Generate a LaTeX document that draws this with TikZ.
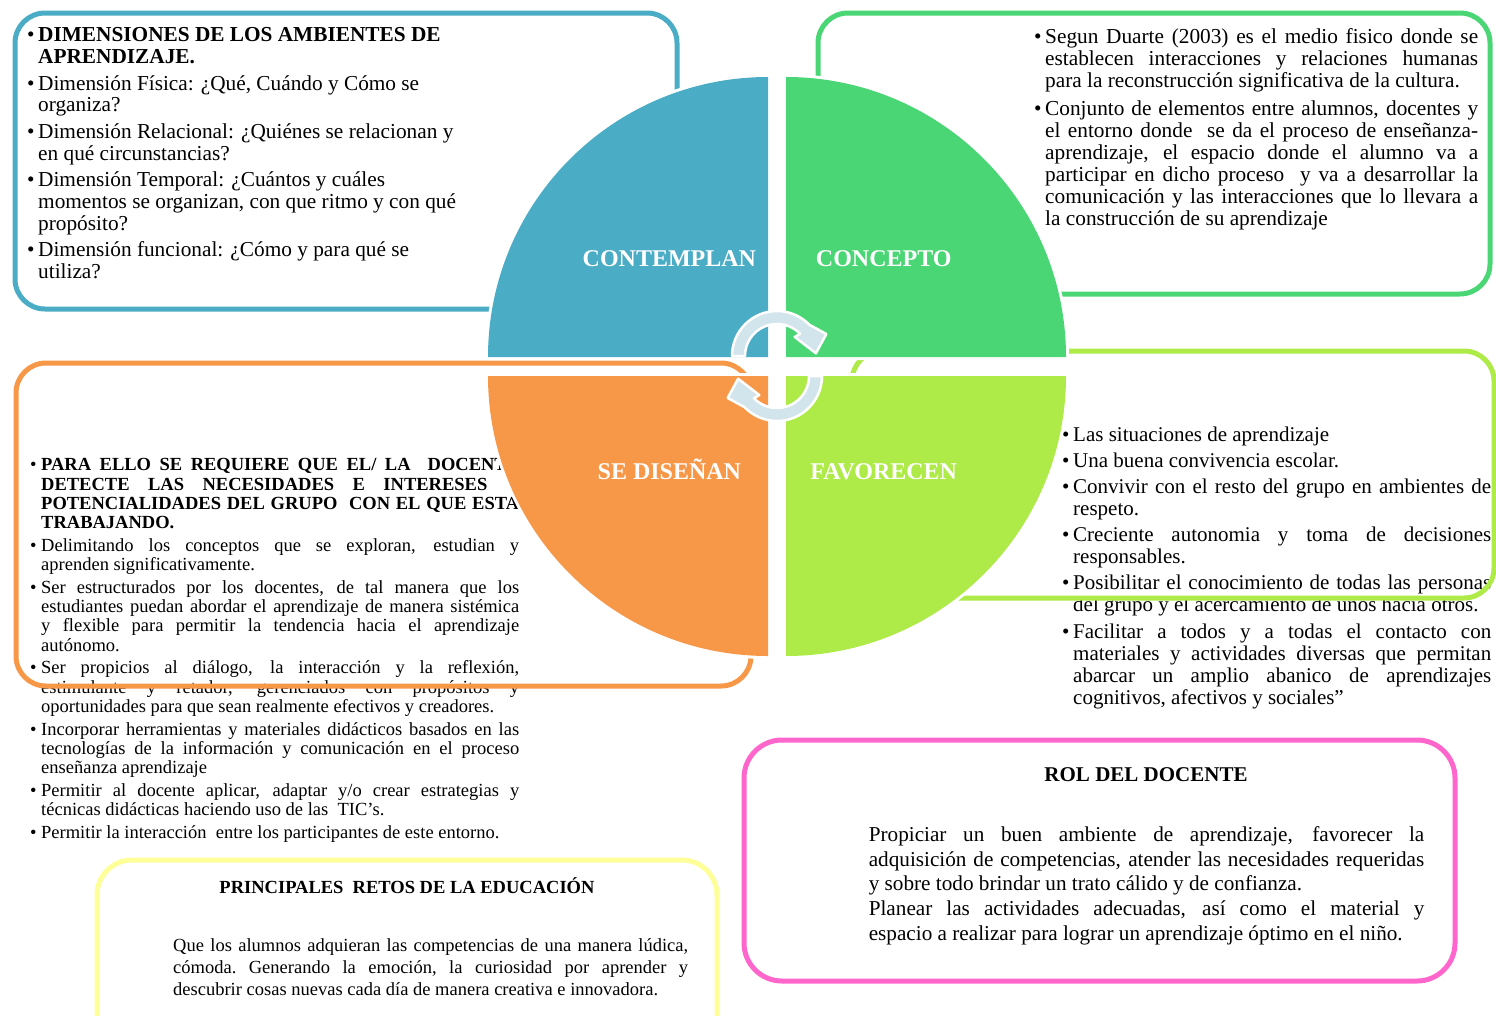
\documentclass[tikz,border=0pt]{standalone}
\usepackage{fontspec}
\setmainfont{Liberation Serif}
\usepackage{tikz}
\definecolor{ambblue}{RGB}{75,172,198}
\definecolor{ambgreen}{RGB}{74,214,117}
\definecolor{amblime}{RGB}{174,234,72}
\definecolor{amborange}{RGB}{247,151,72}
\definecolor{ambpink}{RGB}{255,102,204}
\definecolor{ambyellow}{RGB}{255,255,153}
\definecolor{ambcycle}{RGB}{210,228,236}
\newcommand{\itm}{\hangindent=11pt\hangafter=1\noindent\hbox to 11pt{\textbullet\hfil}}
\newcommand{\txtsize}[3]{\fontsize{#1}{#2}\selectfont\parskip=#3pt\tolerance=10000\hbadness=10000\relax}

\begin{document}
\begin{tikzpicture}[x=1pt, y=-1pt,
    boxframe/.style={draw=#1, line width=5pt, rounded corners=30pt},
    quadrant/.style={fill=#1, preaction={draw=white, line width=6pt, line join=round}},
    qlabel/.style={anchor=base, inner sep=0pt, text=white, font=\bfseries\fontsize{24}{28}\selectfont},
    textblock/.style={anchor=base west, inner sep=0pt, text width=#1, align=justify},
    headtitle/.style={anchor=base, inner sep=0pt, font=\bfseries\fontsize{#1}{#1}\selectfont},
    turnarrow/.style={fill=ambcycle, draw=white, line width=2.5pt, line join=round}]
    \useasboundingbox (0,0) rectangle (1496,1015);
    \clip (0,0) rectangle (1496,1015);

    \node[textblock=460pt, align=flush left] (dimtext) at (27,41.7) {\txtsize{21.3}{21.6}{5.2}%
        \itm\textbf{DIMENSIONES DE LOS AMBIENTES DE\newline APRENDIZAJE.}\par
        \itm Dimensión Física: ¿Qué, Cuándo y Cómo se\newline organiza?\par
        \itm Dimensión Relacional: ¿Quiénes se relacionan y\newline en qué circunstancias?\par
        \itm Dimensión Temporal: ¿Cuántos y cuáles\newline momentos se organizan, con que ritmo y con qué\newline propósito?\par
        \itm Dimensión funcional: ¿Cómo y para qué se\newline utiliza?\par};

    \node[textblock=444pt] (context) at (1034,43.3) {\txtsize{21.3}{22}{6}%
        \itm Segun Duarte (2003) es el medio fisico donde se\linebreak establecen interacciones y relaciones humanas\linebreak para la reconstrucción significativa de la cultura.\par
        \itm Conjunto de elementos entre alumnos, docentes y\linebreak el entorno donde\ \ se da el proceso de enseñanza-\linebreak aprendizaje, el espacio donde el alumno va a\linebreak participar en dicho proceso\ \ y va a desarrollar la\linebreak comunicación y las interacciones que lo llevara a\linebreak la construcción de su aprendizaje\par};

    \node[textblock=429pt] (favtext) at (1062,441) {\txtsize{21}{22}{4.2}%
        \itm Las situaciones de aprendizaje\par
        \itm Una buena convivencia escolar.\par
        \itm Convivir con el resto del grupo en ambientes de\linebreak respeto.\par
        \itm Creciente autonomia y toma de decisiones\linebreak responsables.\par
        \itm Posibilitar el conocimiento de todas las personas\linebreak del grupo y el acercamiento de unos hacia otros.\par
        \itm Facilitar a todos y a todas el contacto con\linebreak materiales y actividades diversas que permitan\linebreak abarcar un amplio abanico de aprendizajes\linebreak cognitivos, afectivos y sociales”\par};

    \node[textblock=489pt] (distext) at (30,470.7) {\txtsize{18.5}{19.3}{3.4}%
        \itm\textbf{PARA ELLO SE REQUIERE QUE EL/ LA\ \ DOCENTE\linebreak DETECTE LAS NECESIDADES E INTERESES Y\linebreak POTENCIALIDADES DEL GRUPO\ \ CON EL QUE ESTA\linebreak TRABAJANDO.}\par
        \itm Delimitando los conceptos que se exploran, estudian y\linebreak aprenden significativamente.\par
        \itm Ser estructurados por los docentes, de tal manera que los\linebreak estudiantes puedan abordar el aprendizaje de manera sistémica\linebreak y flexible para permitir la tendencia hacia el aprendizaje\linebreak autónomo.\par
        \itm Ser propicios al diálogo, la interacción y la reflexión,\linebreak estimulante y retador, gerenciados con propósitos y\linebreak oportunidades para que sean realmente efectivos y creadores.\par
        \itm Incorporar herramientas y materiales didácticos basados en las\linebreak tecnologías de la información y comunicación en el proceso\linebreak enseñanza aprendizaje\par
        \itm Permitir al docente aplicar, adaptar y/o crear estrategias y\linebreak técnicas didácticas haciendo uso de las\ \ TIC’s.\par
        \itm Permitir la interacción\ \ entre los participantes de este entorno.\par};

    \node[headtitle=21] (roltitle) at (1146,781.7) {ROL DEL DOCENTE};
    \node[textblock=555.5pt] (roltext) at (868.6,841.7) {\txtsize{21.2}{24.6}{0}%
        Propiciar un buen ambiente de aprendizaje, favorecer la\linebreak adquisición de competencias, atender las necesidades requeridas\linebreak y sobre todo brindar un trato cálido y de confianza.\par
        Planear las actividades adecuadas, así como el material y\linebreak espacio a realizar para lograr un aprendizaje óptimo en el niño.\par};

    \node[headtitle=18.5] (retostitle) at (407,893.3) {PRINCIPALES\ \ RETOS DE LA EDUCACIÓN};
    \node[textblock=515pt] (retostext) at (173,951.7) {\txtsize{18.5}{21.65}{0}\frenchspacing
        Que los alumnos adquieran las competencias de una manera lúdica,\linebreak cómoda. Generando la emoción, la curiosidad por aprender y\linebreak descubrir cosas nuevas cada día de manera creativa e innovadora.\par};

    \draw[boxframe=ambblue] (15,13) rectangle (677,309);
    \draw[boxframe=ambgreen] (818,13) rectangle (1490,294);
    \draw[boxframe=amborange] (16,363) rectangle (751,686);
    \draw[boxframe=amblime] (852,351) rectangle (1494,598);
    \draw[boxframe=ambpink, rounded corners=38pt] (744,740) rectangle (1455,981);
    \draw[boxframe=ambyellow, rounded corners=35pt] (97,860) rectangle (717,1060);

    \path[quadrant=ambblue] (768,357) -- (488,357) arc[start angle=180, end angle=270, radius=280] -- cycle;
    \path[quadrant=ambgreen] (786,357) -- (786,77) arc[start angle=270, end angle=360, radius=280] -- cycle;
    \path[quadrant=amblime] (786,376) -- (1066,376) arc[start angle=0, end angle=90, radius=280] -- cycle;
    \path[quadrant=amborange] (768,376) -- (768,656) arc[start angle=90, end angle=180, radius=280] -- cycle;

    \node[qlabel] (contemplan) at (669.4,266.7) {CONTEMPLAN};
    \node[qlabel] (concepto) at (883.7,266.7) {CONCEPTO};
    \node[qlabel] (disenan) at (669.4,479.8) {SE DISEÑAN};
    \node[qlabel] (favorecen) at (883.7,479.8) {FAVORECEN};

    \begin{scope}[shift={(777,356)}]
        \draw[turnarrow] (180:45) arc[start angle=180, end angle=316, radius=45] -- (336:54) -- (356:39) -- (313:26) -- (316:32) arc[start angle=316, end angle=180, radius=32] -- cycle;
    \end{scope}
    \begin{scope}[shift={(777,376)}, rotate=180]
        \draw[turnarrow] (180:45) arc[start angle=180, end angle=316, radius=45] -- (336:54) -- (356:39) -- (313:26) -- (316:32) arc[start angle=316, end angle=180, radius=32] -- cycle;
    \end{scope}
\end{tikzpicture}
\end{document}
